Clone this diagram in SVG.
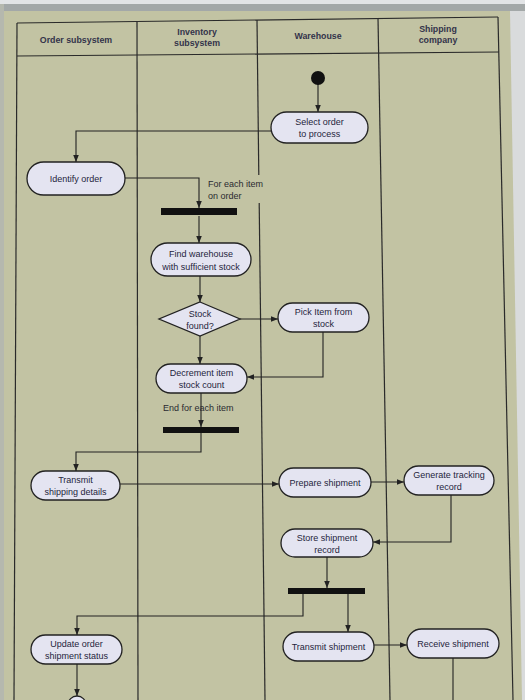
<svg xmlns="http://www.w3.org/2000/svg" width="525" height="700" viewBox="0 0 525 700">
<defs>
<marker id="ah" viewBox="0 0 10 10" refX="10" refY="5" markerWidth="7" markerHeight="7" orient="auto" markerUnits="userSpaceOnUse">
<path d="M0,1 L10,5 L0,9 Z" fill="#222"/>
</marker>
<style>
.lane{stroke:#2a2a2a;stroke-width:1.2;fill:none}
.hd{font-family:"Liberation Sans",Arial,sans-serif;font-size:8.8px;font-weight:bold;fill:#33334a;text-anchor:middle}
.nd{fill:#e4e4f1;stroke:#222;stroke-width:1.3}
.tx{font-family:"Liberation Sans",Arial,sans-serif;font-size:9px;fill:#24243c;text-anchor:middle}
.lb{font-family:"Liberation Sans",Arial,sans-serif;font-size:9px;fill:#2a2a30}
.cn{stroke:#222;stroke-width:1.1;fill:none}
.bar{fill:#111}
</style>
</defs>
<rect x="0" y="0" width="525" height="700" fill="#c2c3a3"/>
<rect x="0" y="0" width="525" height="4" fill="#e2e4e6"/>
<rect x="0" y="4" width="525" height="7" fill="#a3a8a8"/>
<rect x="0" y="4" width="4" height="696" fill="#b5b8ae"/>
<polygon points="510,11 525,11 525,700 522,700" fill="#d9dbdc"/>

<g id="lanes">
<line class="lane" x1="17" y1="23" x2="498" y2="17"/>
<line class="lane" x1="17" y1="56" x2="499" y2="52"/>
<line class="lane" x1="17" y1="23" x2="14" y2="700"/>
<line class="lane" x1="137" y1="22" x2="138" y2="700"/>
<line class="lane" x1="257" y1="20" x2="258.8" y2="175"/>
<line class="lane" x1="259.2" y1="203" x2="265" y2="700"/>
<line class="lane" x1="378" y1="18" x2="390" y2="700"/>
<line class="lane" x1="498" y1="17" x2="513" y2="700"/>
<text class="hd" x="76" y="43">Order subsystem</text>
<text class="hd" x="197" y="35">Inventory</text>
<text class="hd" x="197" y="46">subsystem</text>
<text class="hd" x="318" y="39">Warehouse</text>
<text class="hd" x="438" y="32">Shipping</text>
<text class="hd" x="438" y="43">company</text>
</g>

<g id="connectors">
<path class="cn" d="M318,84 V112" marker-end="url(#ah)"/>
<path class="cn" d="M271,131 H76 V162" marker-end="url(#ah)"/>
<path class="cn" d="M125,178 H199 V208" marker-end="url(#ah)"/>
<path class="cn" d="M199,216 V243" marker-end="url(#ah)"/>
<path class="cn" d="M200,276 V302" marker-end="url(#ah)"/>
<path class="cn" d="M240,319 H278" marker-end="url(#ah)"/>
<path class="cn" d="M200,336 V364" marker-end="url(#ah)"/>
<path class="cn" d="M323,332 V377 H247" marker-end="url(#ah)"/>
<path class="cn" d="M201,393 V427" marker-end="url(#ah)"/>
<path class="cn" d="M201,433 V452 H76 V471" marker-end="url(#ah)"/>
<path class="cn" d="M120,484 H279" marker-end="url(#ah)"/>
<path class="cn" d="M371,482 H404" marker-end="url(#ah)"/>
<path class="cn" d="M451,495 V542 H373" marker-end="url(#ah)"/>
<path class="cn" d="M327,557 V588" marker-end="url(#ah)"/>
<path class="cn" d="M303,593 V616 H77 V635" marker-end="url(#ah)"/>
<path class="cn" d="M348,593 V632" marker-end="url(#ah)"/>
<path class="cn" d="M374,645 H407" marker-end="url(#ah)"/>
<path class="cn" d="M77,664 V696" marker-end="url(#ah)"/>
<path class="cn" d="M453,658 V700"/>
</g>

<g id="start"><circle cx="318" cy="78" r="7" fill="#111"/></g>
<g id="select-order"><rect class="nd" x="271" y="112" width="97" height="31" rx="15.5"/><text class="tx" x="319.5" y="125">Select order</text><text class="tx" x="319.5" y="136.5">to process</text></g>
<g id="identify-order"><rect class="nd" x="27" y="162" width="98" height="33" rx="16.5"/><text class="tx" x="76" y="181.5">Identify order</text></g>
<g id="fork1"><rect class="bar" x="161" y="208" width="76" height="7"/></g>
<g id="for-each-label"><text class="lb" x="208" y="187">For each item</text><text class="lb" x="208" y="199">on order</text></g>
<g id="find-warehouse"><rect class="nd" x="151" y="243" width="100" height="33" rx="16.5"/><text class="tx" x="201" y="257">Find warehouse</text><text class="tx" x="201" y="269.5">with sufficient stock</text></g>
<g id="stock-found"><polygon class="nd" points="200,302 240,319 200,336 159,319"/><text class="tx" x="200" y="317">Stock</text><text class="tx" x="200" y="328.5">found?</text></g>
<g id="pick-item"><rect class="nd" x="278" y="303" width="91" height="29" rx="14.5"/><text class="tx" x="323.5" y="315">Pick Item from</text><text class="tx" x="323.5" y="326.5">stock</text></g>
<g id="decrement"><rect class="nd" x="156" y="364" width="91" height="29" rx="14.5"/><text class="tx" x="201.5" y="375.5">Decrement item</text><text class="tx" x="201.5" y="387.5">stock count</text></g>
<g id="end-label"><text class="lb" x="163" y="411">End for each item</text></g>
<g id="join1"><rect class="bar" x="163" y="427" width="76" height="6"/></g>
<g id="transmit-details"><rect class="nd" x="31" y="471" width="89" height="29" rx="14.5"/><text class="tx" x="75.5" y="482.5">Transmit</text><text class="tx" x="75.5" y="494.5">shipping details</text></g>
<g id="prepare-shipment"><rect class="nd" x="279" y="468" width="92" height="29" rx="14.5"/><text class="tx" x="325" y="485.5">Prepare shipment</text></g>
<g id="generate-tracking"><rect class="nd" x="404" y="466" width="90" height="29" rx="14.5"/><text class="tx" x="449" y="478">Generate tracking</text><text class="tx" x="449" y="490">record</text></g>
<g id="store-shipment"><rect class="nd" x="281" y="529" width="92" height="28" rx="14"/><text class="tx" x="327" y="540.5">Store shipment</text><text class="tx" x="327" y="552.5">record</text></g>
<g id="fork2"><rect class="bar" x="288" y="588" width="77" height="6"/></g>
<g id="update-order"><rect class="nd" x="31" y="635" width="91" height="29" rx="14.5"/><text class="tx" x="76.5" y="646.5">Update order</text><text class="tx" x="76.5" y="658.5">shipment status</text></g>
<g id="transmit-shipment"><rect class="nd" x="283" y="632" width="91" height="29" rx="14.5"/><text class="tx" x="328.5" y="649.5">Transmit shipment</text></g>
<g id="receive-shipment"><rect class="nd" x="407" y="629" width="92" height="29" rx="14.5"/><text class="tx" x="453" y="646.5">Receive shipment</text></g>
<g id="end"><circle class="nd" cx="77" cy="705" r="9"/></g>
</svg>
